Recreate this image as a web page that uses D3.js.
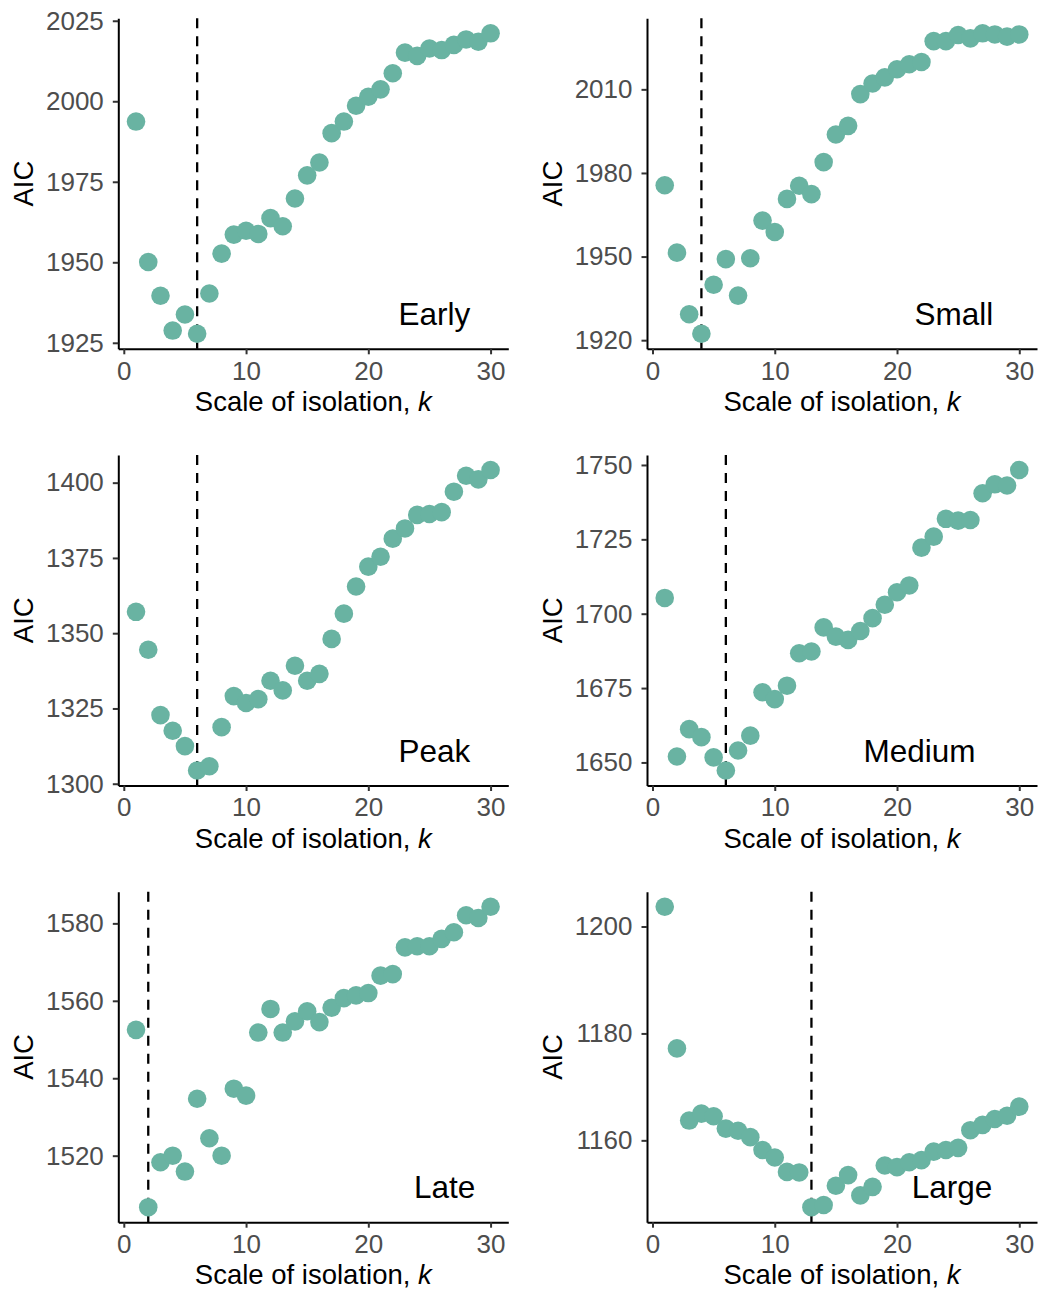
<!DOCTYPE html>
<html>
<head>
<meta charset="utf-8">
<script src="https://cdn.jsdelivr.net/npm/d3@7"></script>
<style>
  html, body { margin: 0; padding: 0; background: #fff; }
  text { font-family: "Liberation Sans", Arial, sans-serif; }
</style>
</head>
<body>
<svg id="chart" width="1041" height="1291"></svg>
<script>
// scale of isolation k (shared x values)
var kValues = [1, 2, 3, 4, 5, 6, 7, 8, 9, 10, 11, 12, 13, 14, 15,
               16, 17, 18, 19, 20, 21, 22, 23, 24, 25, 26, 27, 28, 29, 30];

// AIC per panel
var aicEarly = [1993.7, 1950.1, 1939.6, 1928.8, 1933.8, 1927.8, 1940.3, 1952.7, 1958.6, 1959.8,
                1958.8, 1963.7, 1961.2, 1969.8, 1977.0, 1981.0, 1990.1, 1993.7, 1998.6, 2001.4,
                2003.7, 2008.7, 2015.1, 2014.1, 2016.4, 2015.9, 2017.5, 2019.2, 2018.5, 2021.1];
var aicSmall = [1975.6, 1951.4, 1929.3, 1922.3, 1939.9, 1949.1, 1936.0, 1949.4, 1962.9, 1958.8,
                1970.7, 1975.4, 1972.4, 1983.9, 1993.8, 1996.9, 2008.3, 2012.1, 2014.3, 2017.2,
                2019.0, 2019.8, 2027.3, 2027.3, 2029.5, 2028.3, 2030.1, 2029.7, 2028.9, 2029.7];
var aicPeak = [1357.1, 1344.5, 1322.8, 1317.6, 1312.5, 1304.4, 1305.8, 1318.8, 1329.1, 1326.8,
               1328.1, 1334.2, 1331.0, 1339.2, 1334.2, 1336.5, 1348.1, 1356.5, 1365.5, 1372.1,
               1375.4, 1381.4, 1384.8, 1389.3, 1389.6, 1390.2, 1397.0, 1402.3, 1401.1, 1404.2];
var aicMedium = [1705.3, 1652.0, 1661.2, 1658.5, 1651.7, 1647.3, 1654.0, 1659.0, 1673.6, 1671.3,
                 1675.8, 1686.7, 1687.3, 1695.4, 1692.3, 1691.2, 1694.2, 1698.5, 1703.0, 1707.2,
                 1709.5, 1722.2, 1725.9, 1731.9, 1731.3, 1731.5, 1740.5, 1743.5, 1743.1, 1748.3];
var aicLate = [1552.5, 1506.7, 1518.3, 1520.0, 1515.9, 1534.7, 1524.5, 1520.0, 1537.3, 1535.5,
               1551.8, 1557.9, 1551.8, 1554.7, 1557.3, 1554.5, 1558.2, 1560.7, 1561.4, 1562.0,
               1566.5, 1566.9, 1573.8, 1574.1, 1574.1, 1576.0, 1577.7, 1582.1, 1581.4, 1584.3];
var aicLarge = [1203.7, 1177.2, 1163.7, 1165.0, 1164.5, 1162.2, 1161.8, 1160.6, 1158.2, 1156.8,
                1154.1, 1154.0, 1147.5, 1147.9, 1151.5, 1153.5, 1149.7, 1151.3, 1155.3, 1155.0,
                1155.9, 1156.3, 1157.9, 1158.2, 1158.6, 1161.9, 1162.9, 1164.0, 1164.6, 1166.3];

var panelNames = ["Early", "Small", "Peak", "Medium", "Late", "Large"];
var panelSeries = [aicEarly, aicSmall, aicPeak, aicMedium, aicLate, aicLarge];
var bestK = [6, 4, 6, 6, 2, 13];

// tick labels
var xTicks = [0, 10, 20, 30];
var yTicks = [
    [1925, 1950, 1975, 2000, 2025],
    [1920, 1950, 1980, 2010],
    [1300, 1325, 1350, 1375, 1400],
    [1650, 1675, 1700, 1725, 1750],
    [1520, 1540, 1560, 1580],
    [1160, 1180, 1200]
];

// where the panel name sits, in k units (centre of the text)
var labelK = [25.4, 24.66, 25.4, 21.84, 26.24, 24.5];

var svg = d3.select("#chart"),
    // panel geometry
    colLeft = [118.3, 647],
    rowTop = [18.3, 455, 891.7],
    panelW = 390,
    panelH = 330.5,
    pointColor = "#69b3a2",
    tickColor = "#4d4d4d";

function expand(ext) {
    // ggplot style 5% padding each side
    var pad = (ext[1] - ext[0]) * 0.05;
    return [ext[0] - pad, ext[1] + pad];
}

panelNames.forEach(function (name, i) {
    var left = colLeft[i % 2],
        top = rowTop[Math.floor(i / 2)],
        values = panelSeries[i],
        g = svg.append("g").attr("transform", "translate(" + left + "," + top + ")");

    var x = d3.scaleLinear().domain(expand(d3.extent(kValues))).range([0, panelW]);
    var y = d3.scaleLinear().domain(expand(d3.extent(values))).range([panelH, 0]);

    // dashed line at the best k
    g.append("line")
        .attr("x1", x(bestK[i]))
        .attr("x2", x(bestK[i]))
        .attr("y1", 0)
        .attr("y2", panelH)
        .style("stroke", "#000")
        .style("stroke-width", 2.3)
        .style("stroke-dasharray", "10,8");

    // points
    g.selectAll("circle")
        .data(values)
        .enter()
        .append("circle")
        .attr("cx", function (d, j) { return x(kValues[j]); })
        .attr("cy", function (d) { return y(d); })
        .attr("r", 9.3)
        .style("fill", pointColor);

    // axes
    var xAxis = g.append("g")
        .attr("transform", "translate(0," + panelH + ")")
        .call(d3.axisBottom(x).tickValues(xTicks).tickSize(5.5).tickSizeOuter(0).tickPadding(7));
    var yAxis = g.append("g")
        .call(d3.axisLeft(y).tickValues(yTicks[i]).tickSize(5.5).tickSizeOuter(0).tickPadding(9)
            .tickFormat(d3.format("d")));

    [xAxis, yAxis].forEach(function (ax) {
        ax.select(".domain").style("stroke", "#000").style("stroke-width", 2);
        ax.selectAll(".tick line").style("stroke", "#333").style("stroke-width", 2);
        ax.selectAll(".tick text")
            .style("font-size", "26px")
            .style("fill", tickColor)
            .style("font-family", "'Liberation Sans', Arial, sans-serif");
    });

    // axis titles
    var xt = g.append("text")
        .attr("x", panelW / 2)
        .attr("y", panelH + 62)
        .attr("text-anchor", "middle")
        .style("font-size", "27.5px")
        .style("fill", "#000");
    xt.append("tspan").text("Scale of isolation, ");
    xt.append("tspan").style("font-style", "italic").text("k");

    g.append("text")
        .attr("transform", "translate(-85," + (panelH / 2) + ") rotate(-90)")
        .attr("text-anchor", "middle")
        .style("font-size", "27.5px")
        .style("fill", "#000")
        .text("AIC");

    // panel name
    g.append("text")
        .attr("x", x(labelK[i]))
        .attr("y", panelH - 24)
        .attr("text-anchor", "middle")
        .style("font-size", "31.5px")
        .style("fill", "#000")
        .text(name);
});
</script>
</body>
</html>
